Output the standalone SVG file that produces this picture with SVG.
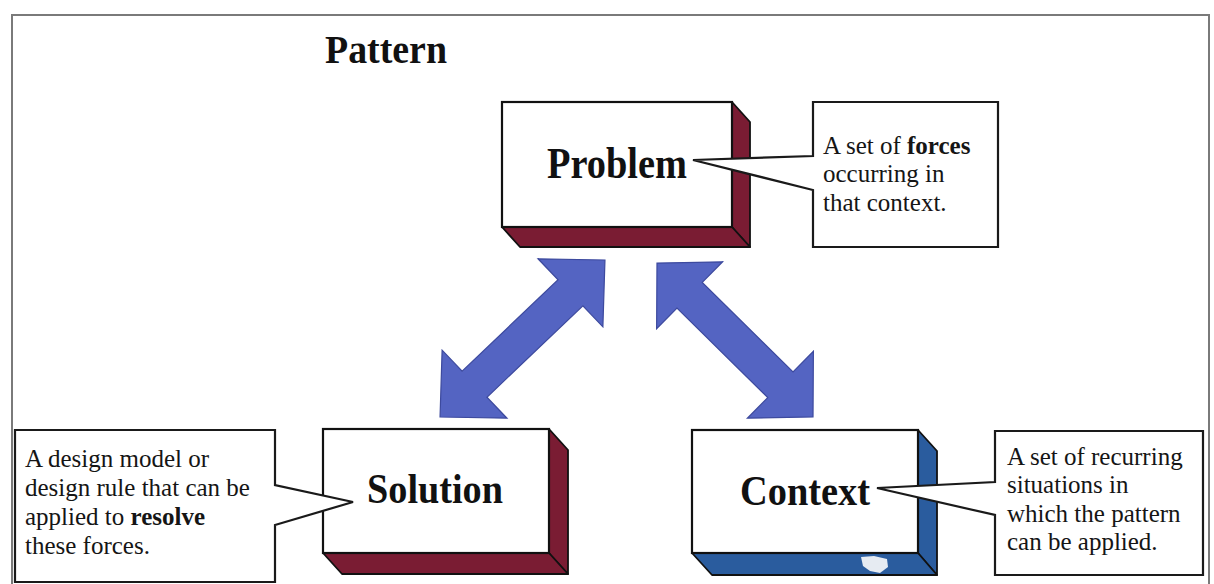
<svg xmlns="http://www.w3.org/2000/svg" width="1214" height="584" viewBox="0 0 1214 584">
<style>
.frame{fill:#fff;stroke:#7a7a7a;stroke-width:2}
.face{fill:#fff;stroke:#111;stroke-width:2.2}
.maroon{fill:#7a1c33;stroke:#111;stroke-width:1.8;stroke-linejoin:round}
.blue{fill:#2a5c9e;stroke:#111;stroke-width:1.8;stroke-linejoin:round}
.callout{fill:#fff;stroke:#1a1a1a;stroke-width:2.2;stroke-linejoin:miter}
.label{font-family:"Liberation Serif","Times New Roman",serif;font-weight:bold;fill:#111}
.note{font-family:"Liberation Serif","Times New Roman",serif;font-size:25px;fill:#151515}
.arrow{fill:#5464c2;stroke:#3d4a9e;stroke-width:1.2;stroke-linejoin:miter}
</style>
<defs>
<path id="dbl" d="M-110,0 L-64,-47 L-64,-18 L64,-18 L64,-47 L110,0 L64,47 L64,18 L-64,18 L-64,47 Z"/>
</defs>
<rect class="frame" x="12" y="15" width="1197" height="580"/>
<text class="label" x="325" y="63" font-size="40" textLength="122" lengthAdjust="spacingAndGlyphs">Pattern</text>

<g id="connectors">
<use href="#dbl" class="arrow" transform="translate(522.5,338.5) rotate(-43.6) scale(1.035,1)"/>
<use href="#dbl" class="arrow" transform="translate(735,340) rotate(44.6) scale(0.996,1)"/>
</g>

<g id="problem">
<polygon class="maroon" points="732,102 750,122 750,247 732,227"/>
<polygon class="maroon" points="502,227 732,227 750,247 520,247"/>
<rect class="face" x="502" y="102" width="230" height="125"/>
<text class="label" x="547" y="178" font-size="44" textLength="140" lengthAdjust="spacingAndGlyphs">Problem</text>
</g>

<g id="problem-note">
<polygon class="callout" points="813,102 998,102 998,247 813,247 813,190 693,160 813,156"/>
<text class="note" x="823" y="154">A set of <tspan font-weight="bold">forces</tspan></text>
<text class="note" x="823" y="182">occurring in</text>
<text class="note" x="823" y="211">that context.</text>
</g>

<g id="solution">
<polygon class="maroon" points="549,429 568,450 568,574 549,553"/>
<polygon class="maroon" points="323,553 549,553 568,574 342,574"/>
<rect class="face" x="323" y="429" width="226" height="124"/>
<text class="label" x="367" y="503" font-size="43" textLength="136" lengthAdjust="spacingAndGlyphs">Solution</text>
</g>

<g id="solution-note">
<polygon class="callout" points="15,430 275,430 275,485 353,502 275,525 275,582 15,582"/>
<text class="note" x="25" y="467">A design model or</text>
<text class="note" x="25" y="496">design rule that can be</text>
<text class="note" x="25" y="525">applied to <tspan font-weight="bold">resolve</tspan></text>
<text class="note" x="25" y="554">these forces.</text>
</g>

<g id="context">
<polygon class="blue" points="918,430 937,451 937,575 918,553"/>
<polygon class="blue" points="692,553 918,553 937,575 712,575"/>
<polygon points="861,557 874,556 887,559 888,567 880,573 870,571 863,566" fill="#e6ebf2"/>
<rect class="face" x="692" y="430" width="226" height="123"/>
<text class="label" x="740" y="505" font-size="43" textLength="130" lengthAdjust="spacingAndGlyphs">Context</text>
</g>

<g id="context-note">
<polygon class="callout" points="995,431 1203,431 1203,575 995,575 995,515 877,488 995,482"/>
<text class="note" x="1007" y="465">A set of recurring</text>
<text class="note" x="1007" y="493">situations in</text>
<text class="note" x="1007" y="522">which the pattern</text>
<text class="note" x="1007" y="550">can be applied.</text>
</g>
</svg>
